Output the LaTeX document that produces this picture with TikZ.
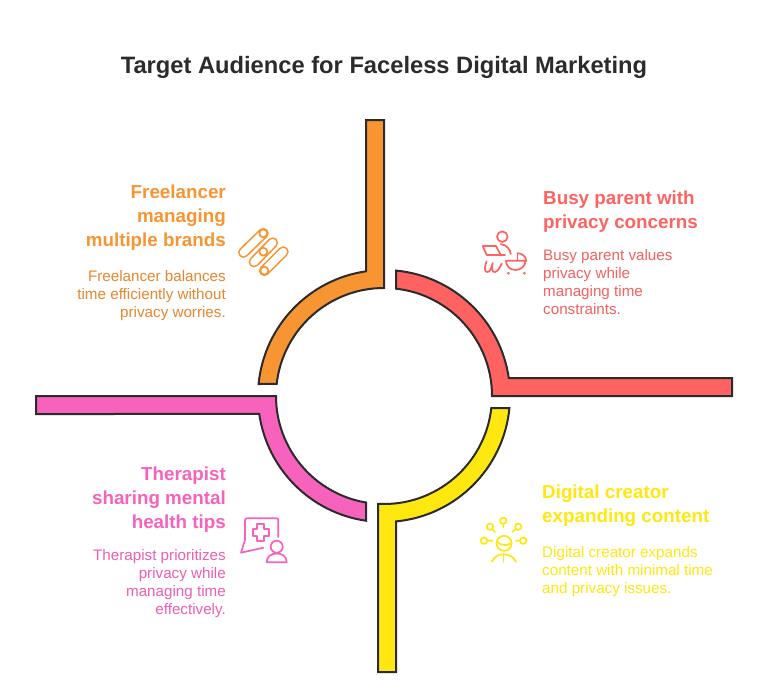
\documentclass[tikz,border=0pt]{standalone}
\usepackage{fontspec}
\setmainfont{Liberation Sans}
\definecolor{cOrange}{HTML}{F79533}
\definecolor{cOrangeT}{HTML}{E8862E}
\definecolor{cRed}{HTML}{FF6361}
\definecolor{cRedT}{HTML}{F26260}
\definecolor{cYellow}{HTML}{FFE80F}
\definecolor{cPink}{HTML}{F763BC}
\definecolor{cPinkT}{HTML}{EC5FB4}
\definecolor{cInk}{HTML}{2B2B2B}
\tikzset{
  band/.style={draw=cInk,line width=2pt,line join=miter},
  titletext/.style={inner sep=0,font=\fontsize{23.7}{29}\selectfont\bfseries,text=cInk},
  headR/.style={inner sep=0,anchor=north west,align=left,font=\fontsize{18.8}{24}\selectfont\bfseries},
  headL/.style={inner sep=0,anchor=north east,align=right,font=\fontsize{18.8}{24}\selectfont\bfseries},
  bodyR/.style={inner sep=0,anchor=north west,align=left,font=\fontsize{15.2}{18}\selectfont},
  bodyL/.style={inner sep=0,anchor=north east,align=right,font=\fontsize{15.2}{18}\selectfont},
  glyph/.style={line width=1.7pt,line cap=round,line join=round},
  pill/.style={glyph,double=white,double distance=7.5pt},
}
\begin{document}
\begin{tikzpicture}[x=1pt,y=-1pt]
\useasboundingbox (0,0) rectangle (768,688);
\fill[white] (0,0) rectangle (768,688);
\node[titletext] (title) at (384,67) {Target Audience for Faceless Digital Marketing};
% bands
\path[band,fill=cOrange] (366,120) -- (384,120) -- (384,288) arc[radius=108pt,start angle=90,end angle=173.6] -- (258.6,384) arc[radius=126pt,start angle=174.53,end angle=98.2] -- cycle;
\path[band,fill=cRed] (396,270.57) arc[radius=126pt,start angle=84.56,end angle=8.21] -- (732,378) -- (732,396) -- (492,396) arc[radius=108pt,start angle=0,end angle=83.62] -- cycle;
\path[band,fill=cYellow] (491.33,408) -- (509.43,408) arc[radius=126pt,start angle=-5.47,end angle=-84.54] -- (396,672) -- (378,672) -- (378,503.83) arc[radius=108pt,start angle=-93.18,end angle=-6.38] -- cycle;
\path[band,fill=cPink] (36,396) -- (276,396) arc[radius=108pt,start angle=180,end angle=260.41] -- (366,520.7) arc[radius=126pt,start angle=261.8,end angle=188.21] -- (36,414) -- cycle;
% texts
\node[headL,text=cOrange] (orangeHead) at (226,185) {Freelancer\\managing\\multiple brands};
\node[bodyL,text=cOrangeT] (orangeBody) at (226,270) {Freelancer balances\\time efficiently without\\privacy worries.};
\node[headR,text=cRed] (redHead) at (543,191) {Busy parent with\\privacy concerns};
\node[bodyR,text=cRedT] (redBody) at (543,249) {Busy parent values\\privacy while\\managing time\\constraints.};
\node[headR,text=cYellow] (yellowHead) at (542,485) {Digital creator\\expanding content};
\node[bodyR,text=cYellow] (yellowBody) at (542,546) {Digital creator expands\\content with minimal time\\and privacy issues.};
\node[headL,text=cPink] (pinkHead) at (226,467) {Therapist\\sharing mental\\health tips};
\node[bodyL,text=cPinkT] (pinkBody) at (226,549) {Therapist prioritizes\\privacy while\\managing time\\effectively.};
% orange icon
\draw[pill,cOrange] (263.3,233.3) -- (243.5,252.5);
\draw[pill,cOrange] (272.7,242.7) -- (254,262);
\draw[pill,cOrange] (283.3,251.7) -- (264.3,270.7);
\draw[glyph,cOrange,fill=white] (263.3,233.3) circle[radius=4pt];
\draw[glyph,cOrange,fill=white] (263.3,251.7) circle[radius=4pt];
\draw[glyph,cOrange,fill=white] (264.3,270.7) circle[radius=4pt];
% red icon
\draw[glyph,cRed] (502.3,236.7) circle[radius=5.3pt];
\draw[glyph,cRed] (500.7,244) .. controls (506,245) and (510.7,249) .. (510.7,254);
\draw[glyph,cRed] (505,255) -- (486.7,255) -- (482.7,246) -- (496,246) -- (500.5,254.5);
\draw[glyph,cRed] (486.5,261.5) .. controls (485,266) and (483.5,271.5) .. (487,272) .. controls (490,272.5) and (491.5,268) .. (492.7,263) .. controls (491.5,269) and (492,272.5) .. (495,272) .. controls (498,271.5) and (500,267) .. (501.7,263.5);
\draw[glyph,cRed] (506,260.7) -- (525.5,260.7) .. controls (525.5,266) and (521,270) .. (515.5,270) .. controls (510,270) and (506,266) .. (506,260.7);
\draw[glyph,cRed] (517.5,253.3) .. controls (522,253) and (526,256.5) .. (526.3,261);
\draw[glyph,cRed] (517.5,253.3) -- (517.5,260.7);
\fill[cRed] (508.3,273.3) circle[radius=1.5pt] (524.3,273.3) circle[radius=1.5pt];
% yellow icon
\draw[glyph,cYellow] (504,543.3) circle[radius=7.5pt];
\draw[glyph,cYellow] (497,541.5) .. controls (501,546) and (507,546) .. (511.5,543);
\draw[glyph,cYellow] (491.7,561.7) .. controls (494,557) and (498,554.3) .. (503.5,554.3) .. controls (509,554.3) and (513.5,557) .. (516,561.7);
\draw[glyph,cYellow] (503.5,554.3) -- (503.5,561.7);
\draw[glyph,cYellow] (503.3,520.7) circle[radius=3.2pt] (503.3,523.9) -- (503.3,527);
\draw[glyph,cYellow] (490,526.7) circle[radius=3.2pt] (492.3,529) -- (495,532);
\draw[glyph,cYellow] (518.3,526.7) circle[radius=3.2pt] (516,529) -- (512.5,531.7);
\draw[glyph,cYellow] (484,540.7) circle[radius=3.2pt] (487.2,540.7) -- (492.7,540.7);
\draw[glyph,cYellow] (523.3,540.7) circle[radius=3.2pt] (520.1,540.7) -- (515.7,540.7);
% pink icon
\draw[glyph,cPink] (263.3,547.7) -- (241,552.7) -- (245,540) -- (245,520.3) .. controls (245,519) and (246,518.3) .. (247,518.3) -- (276.3,518.3) .. controls (277.6,518.3) and (278.3,519) .. (278.3,520.3) -- (278.3,537);
\draw[glyph,cPink] (257.2,523.7) -- (264.2,523.7) -- (264.2,528.8) -- (269,528.8) -- (269,535.8) -- (264.2,535.8) -- (264.2,541) -- (257.2,541) -- (257.2,535.8) -- (252.7,535.8) -- (252.7,528.8) -- (257.2,528.8) -- cycle;
\draw[glyph,cPink] (276.7,546.7) circle[radius=6pt];
\draw[glyph,cPink] (266.7,562.3) .. controls (266.7,556.5) and (271,553.5) .. (276.7,553.5) .. controls (282.4,553.5) and (286.7,556.5) .. (286.7,562.3) -- cycle;
\end{tikzpicture}
\end{document}
